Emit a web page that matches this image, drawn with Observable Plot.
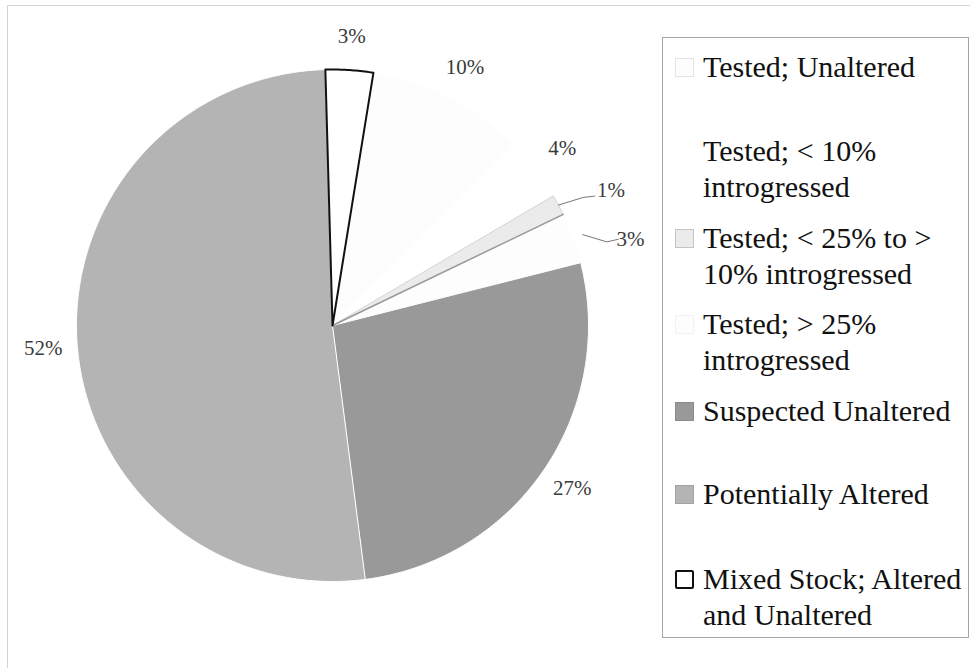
<!DOCTYPE html>
<html>
<head>
<meta charset="utf-8">
<script src="https://cdn.jsdelivr.net/npm/d3@7"></script>
<script src="https://cdn.jsdelivr.net/npm/@observablehq/plot@0.6"></script>
<style>
  html, body { margin: 0; padding: 0; background: #fff; }
  #wrap { position: relative; width: 970px; height: 668px; overflow: hidden; font-family: "Liberation Serif", "Times New Roman", serif; }
  #frame { position: absolute; left: 7px; top: 5px; width: 1000px; height: 700px; border-left: 1px solid #d4d4d4; border-top: 1px solid #d4d4d4; }
  #chart { position: absolute; left: 0; top: 0; }
  #legend { position: absolute; left: 662px; top: 37px; width: 305px; height: 599px; border: 1px solid #a6a6a6; background: #fff; }
  .entry { position: absolute; left: 0; width: 305px; }
  .swatch { position: absolute; left: 12px; width: 19px; height: 19px; box-sizing: border-box; }
  .txt { position: absolute; left: 40px; width: 266px; font-size: 30px; line-height: 36px; color: #111; }
</style>
</head>
<body>
<div id="wrap">
  <div id="frame"></div>
  <div id="chart"></div>
  <div id="legend"></div>
</div>
<script>
// ---- data ----
const categories = [
  "Tested; Unaltered",
  "Tested; < 10% introgressed",
  "Tested; < 25% to > 10% introgressed",
  "Tested; > 25% introgressed",
  "Suspected Unaltered",
  "Potentially Altered",
  "Mixed Stock; Altered and Unaltered"
];
const values = [10.0, 4.0, 1.3, 3.2, 26.9, 51.6, 3.0];
const fills = ["#fdfdfd", "#ffffff", "#ebebeb", "#fdfdfd", "#999999", "#b4b4b4", "#ffffff"];
const swatchBorders = ["#e4e4e4", "#ffffff", "#c4c4c4", "#f2f2f2", "#8a8a8a", "#a2a2a2", "#111111"];
const leaderCats = ["Tested; < 25% to > 10% introgressed", "Tested; > 25% introgressed"];

// ---- layout ----
const W = 660, H = 668, CX = 332, CY = 325, R = 256;
const startDeg = 9.2;
const legendLineTops = [48, 132, 219, 305, 392, 475, 560]; // top of first text line in page px
const legendTop = 37;

const total = d3.sum(values);
let acc = startDeg;
const slices = categories.map((c, i) => {
  const a0 = acc, a1 = acc + values[i] / total * 360;
  acc = a1;
  return {cat: c, value: values[i], a0, a1, mid: (a0 + a1) / 2, label: Math.round(values[i] / total * 100) + "%"};
});
const rad = d => d * Math.PI / 180;
const pt = (deg, r) => ({x: r * Math.sin(rad(deg)), y: r * Math.cos(rad(deg))});

const wedgePts = [];
for (const s of slices) {
  wedgePts.push({cat: s.cat, ...pt(s.a0, 0)});
  const n = Math.max(4, Math.ceil((s.a1 - s.a0) / 0.5));
  for (let k = 0; k <= n; k++) wedgePts.push({cat: s.cat, ...pt(s.a0 + (s.a1 - s.a0) * k / n, 1)});
}
const mixedPts = wedgePts.filter(d => d.cat === categories[6]);
const midPts = wedgePts.filter(d => d.cat === categories[2]);
const midSlice = slices[2];
const edgePts = [{...pt(midSlice.a1, 0)}, {...pt(midSlice.a1, 1)}];

const normalLabels = slices.filter(s => !leaderCats.includes(s.cat)).map(s => ({...s, ...pt(s.mid, 1.133)}));
const leaderLabels = slices.filter(s => leaderCats.includes(s.cat)).map((s, i) => ({...s, ...pt(s.mid + 1 + i * 2, 1.16)}));
const leaderPts = [];
slices.filter(s => leaderCats.includes(s.cat)).forEach((s, i) => {
  const p0 = pt(s.mid, i === 0 ? 1.0 : 1.04);
  const p1 = pt(s.mid + 1 + i * 2, i === 0 ? 1.1 : 1.12);
  leaderPts.push({cat: s.cat, ...p0});
  leaderPts.push({cat: s.cat, ...p1});
  leaderPts.push({cat: s.cat, x: p1.x + 0.045, y: p1.y + (i === 0 ? 0.005 : 0.01)});
});

const chart = Plot.plot({
  width: W, height: H, margin: 0,
  x: {domain: [-CX / R, (W - CX) / R], axis: null},
  y: {domain: [-(H - CY) / R, CY / R], axis: null},
  color: {domain: categories, range: fills},
  style: {background: "transparent", overflow: "visible"},
  marks: [
    Plot.line(wedgePts, {x: "x", y: "y", z: "cat", fill: "cat", stroke: "white", strokeWidth: 1, curve: "linear-closed"}),
    Plot.line(midPts, {x: "x", y: "y", stroke: "#d0d0d0", strokeWidth: 1, curve: "linear-closed"}),
    Plot.line(edgePts, {x: "x", y: "y", stroke: "#9a9a9a", strokeWidth: 1.5}),
    Plot.line(mixedPts, {x: "x", y: "y", stroke: "#111", strokeWidth: 2, curve: "linear-closed"}),
    Plot.line(leaderPts, {x: "x", y: "y", z: "cat", stroke: "#777", strokeWidth: 1}),
    Plot.text(normalLabels, {x: "x", y: "y", text: "label", fontSize: 21, fontFamily: "Liberation Serif", fill: "#3a3a3a", textAnchor: "middle"}),
    Plot.text(leaderLabels, {x: "x", y: "y", text: "label", fontSize: 21, fontFamily: "Liberation Serif", fill: "#3a3a3a", textAnchor: "start"})
  ]
});
document.getElementById("chart").appendChild(chart);

// legend
const legend = document.getElementById("legend");
categories.forEach((c, i) => {
  const e = document.createElement("div");
  e.className = "entry";
  e.style.top = (legendLineTops[i] - legendTop) + "px";
  const sw = document.createElement("div");
  sw.className = "swatch";
  sw.style.top = "9px";
  sw.style.background = fills[i];
  sw.style.border = (i === 6 ? "2px" : "1px") + " solid " + swatchBorders[i];
  if (i === 6) sw.style.borderRadius = "2px";
  const t = document.createElement("div");
  t.className = "txt";
  t.textContent = c;
  e.appendChild(sw);
  e.appendChild(t);
  legend.appendChild(e);
});
</script>
</body>
</html>
